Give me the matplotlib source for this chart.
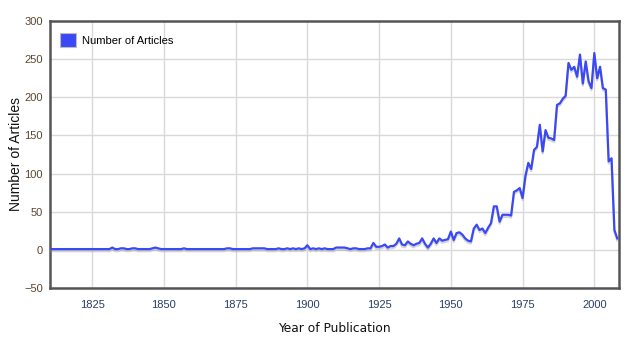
import numpy as np
import matplotlib
matplotlib.use("Agg")
import matplotlib.pyplot as plt
import matplotlib.patheffects as pe
from matplotlib.patches import Patch

# yearly article counts
years = list(range(1810, 2009))
counts = [
    # 1810-1919
    1, 1, 1, 1, 1, 1, 1, 1, 1, 1,
    1, 1, 1, 1, 1, 1, 1, 1, 1, 1,
    1, 1, 3, 1, 1, 2, 2, 1, 1, 2,
    2, 1, 1, 1, 1, 1, 2, 3, 2, 1,
    1, 1, 1, 1, 1, 1, 1, 2, 1, 1,
    1, 1, 1, 1, 1, 1, 1, 1, 1, 1,
    1, 1, 2, 2, 1, 1, 1, 1, 1, 1,
    1, 2, 2, 2, 2, 2, 1, 1, 1, 1,
    2, 1, 1, 2, 1, 2, 1, 2, 1, 2,
    6, 1, 2, 1, 2, 1, 2, 1, 1, 1,
    3, 3, 3, 3, 2, 1, 2, 2, 1, 1,
    # 1920-2008
    1, 2, 2, 9, 4, 4, 5, 7, 3, 5,
    5, 8, 15, 7, 6, 11, 8, 6, 8, 9,
    15, 8, 3, 8, 15, 9, 15, 12, 13, 14,
    24, 13, 22, 23, 20, 15, 12, 11, 28, 33,
    26, 28, 22, 29, 35, 57, 57, 37, 46, 46,
    46, 45, 76, 78, 81, 68, 97, 114, 106, 131,
    135, 164, 129, 157, 147, 146, 144, 190, 192, 198,
    202, 245, 236, 240, 227, 256, 218, 247, 221, 212,
    258, 225, 240, 212, 210, 116, 120, 26, 15,
]
x_ticks = [1825, 1850, 1875, 1900, 1925, 1950, 1975, 2000]
y_ticks = [-50, 0, 50, 100, 150, 200, 250, 300]

line_col = "#3a48f5"

fig = plt.figure(figsize=(6.42, 3.44), dpi=100)
ax = fig.add_axes([50 / 642, 56 / 344, 569 / 642, 267 / 344])

ax.plot(years, counts, color=line_col, lw=1.6, solid_joinstyle="round",
        path_effects=[pe.SimpleLineShadow(offset=(0, -1.5), shadow_color="#888888", alpha=0.35),
                      pe.Normal()], zorder=3)

ax.set_xlim(1810.3, 2008.6)
ax.set_ylim(-50, 300)
ax.set_xticks(x_ticks)
ax.set_yticks(y_ticks)
ax.grid(True, color="#d9d9d9", lw=1.0)
ax.set_axisbelow(True)
ax.tick_params(length=0)
ax.tick_params(axis="x", pad=9, labelsize=8, labelcolor="#2a3d66")
ax.tick_params(axis="y", pad=5, labelsize=8, labelcolor="#5a4630")
for lab in ax.get_xticklabels() + ax.get_yticklabels():
    lab.set_family("Liberation Sans")
for sp in ax.spines.values():
    sp.set_color("#555555")
    sp.set_linewidth(1.8)

ax.set_xlabel("Year of Publication", fontsize=8.8, family="DejaVu Sans",
              color="#111111", labelpad=8)
ax.set_ylabel("Number of Articles", fontsize=10, family="Liberation Sans",
              color="#111111", labelpad=1)

handle = Patch(facecolor=line_col, edgecolor="#bbbbbb", lw=0.8)
ax.legend([handle], ["Number of Articles"], loc="upper left", frameon=False,
          bbox_to_anchor=(10 / 569, 1 - 12 / 267), borderpad=0, borderaxespad=0,
          handlelength=1.4, handleheight=1.6, handletextpad=0.6,
          prop={"family": "Liberation Sans", "size": 8})

fig.savefig("out.png", dpi=100)
